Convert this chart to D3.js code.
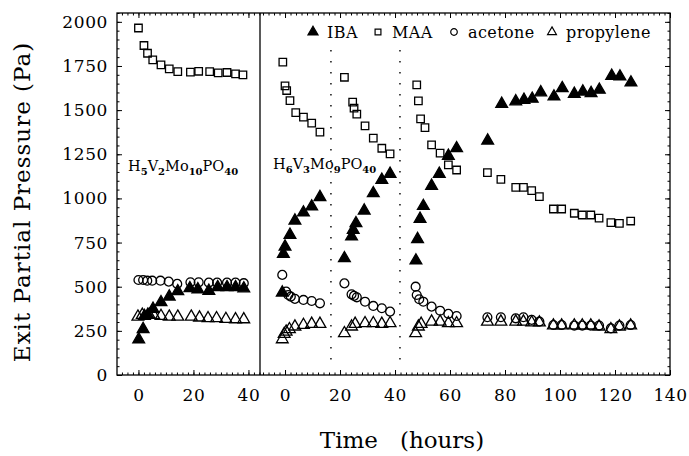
<!DOCTYPE html>
<html>
<head>
<meta charset="utf-8">
<script src="https://cdn.jsdelivr.net/npm/d3@7"></script>
<style>
  body { margin: 0; background: #fff; }
  svg { display: block; }
  text { font-family: "DejaVu Serif", serif; fill: #000; }
</style>
</head>
<body>
<div id="chart"></div>
<script>
// Left panel: H5V2Mo10PO40, [time (h), pressure (Pa)]
const leftIBA = [[0.1,202],[1.7,260],[2.2,334],[3.4,340],[5.3,374],[8.2,412],[11.2,444],[14.3,474],[18.7,491],[21.6,485],[25.6,476],[28.8,497],[32.2,497],[35.3,497],[38.3,490]];
const leftMAA = [[0,1965],[2,1866],[3.3,1822],[5.2,1785],[8.2,1756],[11.2,1734],[14.3,1718],[18.9,1715],[21.9,1720],[25.9,1718],[29,1711],[32.2,1713],[35.3,1705],[38,1700]];
const leftAcetone = [[0,538],[1.7,538],[3.2,534],[5,534],[8,534],[11,529],[14.1,516],[18.9,525],[21.9,525],[25.6,523],[28.6,523],[32.2,523],[35.3,523],[38.3,520]];
const leftPropylene = [[-0.2,330],[1.4,340],[3.9,340],[5.5,340],[8.2,334],[11.2,330],[14.3,330],[19.2,330],[22.2,325],[25.3,321],[28.4,321],[31.8,317],[35.3,315],[38.3,315]];

// Right panel: H6V3Mo9PO40
const rightIBA = [[-1,466],[-0.6,686],[0,727],[1.8,793],[3.6,874],[6.7,920],[9.7,954],[12.7,1007],
  [21.6,661],[24.2,784],[24.8,822],[25.8,859],[28.8,931],[32.1,1029],[35.2,1105],[38.2,1139],
  [47.6,648],[48.2,769],[49.1,884],[50.3,957],[53.3,1071],[56.1,1139],[59.4,1241],[62.4,1284],
  [73.7,1327],[78.8,1535],[83.9,1549],[86.9,1558],[89.9,1564],[93,1600],[97.8,1577],[100.8,1624],[105.2,1592],[108.3,1605],[111.3,1596],[114.3,1615],[118.8,1694],[121.8,1690],[125.8,1656]];
const rightMAA = [[-0.8,1772],[0,1637],[0.6,1611],[1.8,1554],[3.9,1486],[6.7,1460],[9.7,1426],[12.7,1375],
  [21.6,1686],[24.6,1545],[25.1,1511],[26.1,1477],[29.1,1411],[32.1,1341],[35.2,1284],[38.2,1252],
  [47.9,1643],[48.5,1552],[49.3,1450],[50.9,1401],[53.3,1303],[56.4,1256],[59.4,1190],[62.4,1161],
  [73.6,1146],[78.5,1108],[83.9,1063],[86.7,1063],[89.7,1044],[92.5,1010],[97.6,940],[100.6,940],[105.2,916],[108.1,906],[111.2,906],[114.2,888],[118.5,863],[121.6,859],[125.7,872]];
const rightAcetone = [[-1,567],[0.4,472],[1.2,453],[2.1,444],[3.6,431],[6.7,425],[9.7,419],[12.7,406],
  [21.6,519],[24.2,457],[25.1,448],[26.1,440],[29.1,415],[32.1,391],[35.2,378],[38.2,359],
  [47.5,500],[47.9,453],[48.8,429],[50.3,415],[53.3,387],[56.4,364],[59.4,346],[62.4,334],
  [73.6,327],[78.5,327],[83.9,321],[86.7,327],[89.7,312],[92.5,302],[97.6,283],[100.6,283],[105.2,280],[108.1,280],[111.2,280],[114.2,280],[118.5,264],[121.6,280],[125.7,283]];
const rightPropylene = [[-1,202],[-0.3,232],[0.4,245],[1.6,259],[3.6,274],[6.7,283],[9.7,289],[12.7,289],
  [21.6,236],[24.2,274],[25.5,289],[29.1,293],[32.1,293],[35.2,289],[38.2,293],
  [47.5,236],[48.5,274],[49.5,289],[53.3,302],[56.4,302],[59.4,293],[62.4,293],
  [73.6,302],[78.5,302],[83.9,302],[86.7,302],[89.7,297],[92.5,297],[97.6,280],[100.6,280],[105.2,280],[108.1,280],[111.2,280],[114.2,274],[118.5,259],[121.6,274],[125.7,280]];

// Catalyst changes in the right panel (dotted lines), hours
const dividers = [16.7, 41.8];

const leftTicks = [0, 20, 40];
const rightTicks = [0, 20, 40, 60, 80, 100, 120, 140];
const yTicks = [0, 250, 500, 750, 1000, 1250, 1500, 1750, 2000];

const legendItems = [
  {label: "IBA", shape: "triangle", filled: true},
  {label: "MAA", shape: "square", filled: false},
  {label: "acetone", shape: "circle", filled: false},
  {label: "propylene", shape: "triangle", filled: false}
];

const W = 689, H = 456;
const x0 = 117, xSplit = 260, x1 = 670, yTop = 13, yBot = 375;

const svg = d3.select("#chart").append("svg")
    .attr("width", W).attr("height", H);

const xL = d3.scaleLinear().domain([-7.8, 44.2]).range([x0, xSplit]);
const xR = d3.scaleLinear().domain([-9.1, 140]).range([xSplit, x1]);
const y = d3.scaleLinear().domain([0, 2050]).range([yBot, yTop]);

const symbolTypes = {triangle: d3.symbolTriangle, square: d3.symbolSquare, circle: d3.symbolCircle};
const shapes = {
    triangle: d3.symbol().type(d3.symbolTriangle).size(60),
    square: d3.symbol().type(d3.symbolSquare).size(56),
    circle: d3.symbol().type(d3.symbolCircle).size(62)
};

// Axes (ticks pointing inward)
const minorL = d3.range(-6, 45, 2);
const minorR = d3.range(-8, 141, 2);
const minorY = d3.range(0, 2051, 50);

function tickAxis(axisFn, scale, values, size, labels, pad) {
    return axisFn(scale).tickValues(values).tickSize(size).tickPadding(pad || 0)
        .tickFormat(labels ? d3.format("d") : "");
}

function addAxis(g, axis, labels) {
    g.call(axis);
    g.select(".domain").remove();
    g.selectAll("line").attr("stroke", "#000").attr("stroke-width", 1);
    if (!labels) {
        g.selectAll("text").remove();
        return;
    }
    g.selectAll("text").style("font-family", "DejaVu Serif").style("font-size", "17px")
        .style("letter-spacing", "0.6px");
}

[[xL, leftTicks, minorL], [xR, rightTicks, minorR]].forEach(([sc, major, minor]) => {
    addAxis(svg.append("g").attr("transform", `translate(0,${yBot})`),
        tickAxis(d3.axisBottom, sc, minor, -2.5, false));
    addAxis(svg.append("g").attr("transform", `translate(0,${yBot})`),
        tickAxis(d3.axisBottom, sc, major, -5, true, 14), true);
    addAxis(svg.append("g").attr("transform", `translate(0,${yTop})`),
        tickAxis(d3.axisTop, sc, minor, -2.5, false));
    addAxis(svg.append("g").attr("transform", `translate(0,${yTop})`),
        tickAxis(d3.axisTop, sc, major, -5, false));
});

addAxis(svg.append("g").attr("transform", `translate(${x0},0)`),
    tickAxis(d3.axisLeft, y, minorY, -2.5, false));
addAxis(svg.append("g").attr("transform", `translate(${x0},0)`),
    tickAxis(d3.axisLeft, y, yTicks, -5, true, 9), true);
addAxis(svg.append("g").attr("transform", `translate(${x1},0)`),
    tickAxis(d3.axisRight, y, minorY, -2.5, false));
addAxis(svg.append("g").attr("transform", `translate(${x1},0)`),
    tickAxis(d3.axisRight, y, yTicks, -5, false));

// Frame and panel split
svg.append("rect")
    .attr("x", x0).attr("y", yTop)
    .attr("width", x1 - x0).attr("height", yBot - yTop)
    .attr("fill", "none").attr("stroke", "#000").attr("stroke-width", 1.3);
svg.append("line")
    .attr("x1", xSplit).attr("x2", xSplit).attr("y1", yTop).attr("y2", yBot)
    .attr("stroke", "#000").attr("stroke-width", 1.3);

// Dotted catalyst-change lines
svg.selectAll(".divider")
    .data(dividers)
    .enter()
    .append("line")
    .attr("class", "divider")
    .attr("x1", d => xR(d)).attr("x2", d => xR(d))
    .attr("y1", y(1840)).attr("y2", y(55))
    .attr("stroke", "#000").attr("stroke-width", 1.4)
    .attr("stroke-dasharray", "1.4,9.6");

// Data points
function plotSeries(data, sc, shape, filled) {
    svg.append("g").selectAll("path")
        .data(data)
        .enter()
        .append("path")
        .attr("transform", d => `translate(${sc(d[0])},${y(d[1])})`)
        .attr("d", shapes[shape])
        .attr("fill", filled ? "#000" : "none")
        .attr("stroke", "#000")
        .attr("stroke-width", 1.3);
}

plotSeries(leftIBA, xL, "triangle", true);
plotSeries(leftMAA, xL, "square", false);
plotSeries(leftAcetone, xL, "circle", false);
plotSeries(leftPropylene, xL, "triangle", false);
plotSeries(rightIBA, xR, "triangle", true);
plotSeries(rightMAA, xR, "square", false);
plotSeries(rightAcetone, xR, "circle", false);
plotSeries(rightPropylene, xR, "triangle", false);

// Legend
const legendX = [313, 378, 454, 552];
const legend = svg.append("g").attr("transform", "translate(0,32)");
legendItems.forEach((item, i) => {
    legend.append("path")
        .attr("transform", `translate(${legendX[i]},0)`)
        .attr("d", d3.symbol().type(symbolTypes[item.shape]).size(item.filled ? 44 : 34))
        .attr("fill", item.filled ? "#000" : "none")
        .attr("stroke", "#000").attr("stroke-width", 1.2);
    legend.append("text")
        .attr("x", legendX[i] + 14).attr("y", 5.5)
        .style("font-size", "16px")
        .style("letter-spacing", "0.4px")
        .text(item.label);
});

// Catalyst labels with subscripts
function formula(xp, yp, parts) {
    const t = svg.append("text").attr("x", xp).attr("y", yp).style("font-size", "14.5px");
    parts.forEach(([s, sub], i) => {
        t.append("tspan").attr("dy", i === 0 ? 0 : -4).text(s);
        t.append("tspan").attr("dy", 4).style("font-size", "10px").style("font-weight", "bold").text(sub);
    });
}
formula(128, 171, [["H", "5"], ["V", "2"], ["Mo", "10"], ["PO", "40"]]);
formula(273, 169, [["H", "6"], ["V", "3"], ["Mo", "9"], ["PO", "40"]]);

// Axis titles
svg.append("text")
    .attr("transform", "translate(30,202) rotate(-90)")
    .attr("text-anchor", "middle")
    .style("font-size", "23px")
    .style("letter-spacing", "1px")
    .text("Exit Partial Pressure (Pa)");

svg.append("text")
    .attr("x", 402).attr("y", 448)
    .attr("text-anchor", "middle")
    .style("font-size", "23px")
    .style("white-space", "pre")
    .attr("xml:space", "preserve")
    .text("Time   (hours)");
</script>
</body>
</html>
